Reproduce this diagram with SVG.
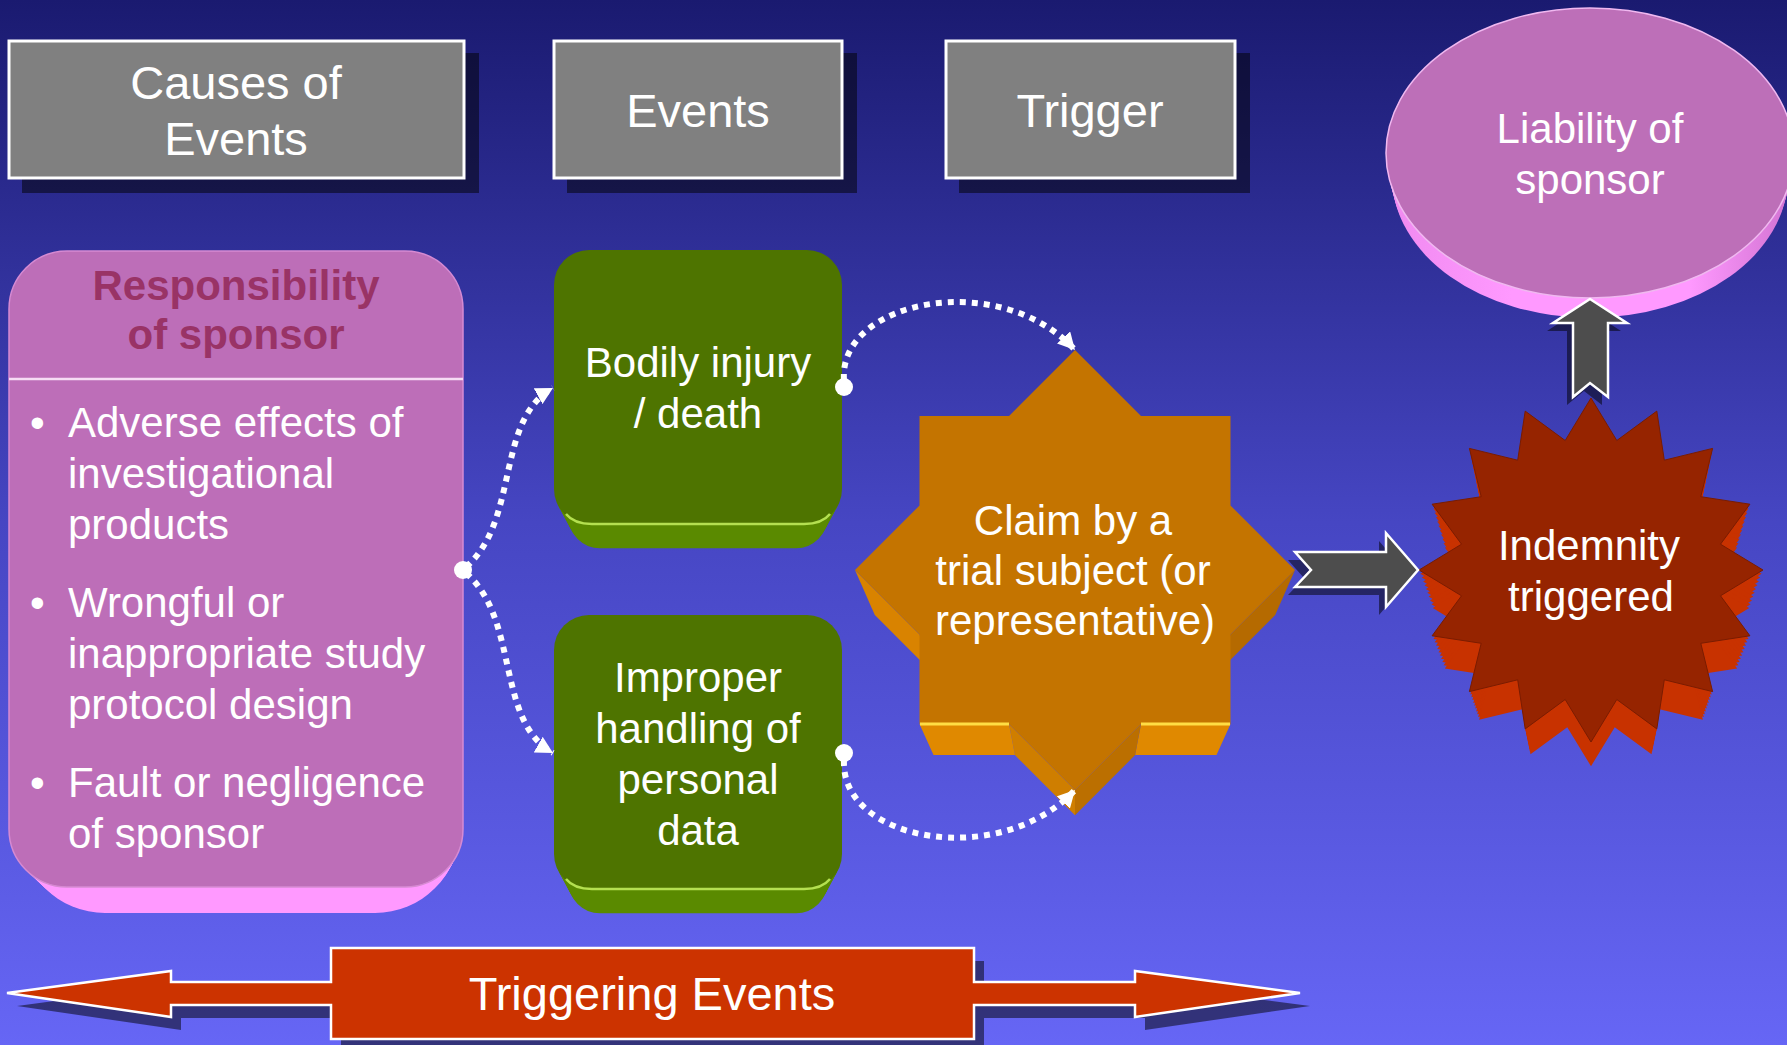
<svg xmlns="http://www.w3.org/2000/svg" width="1787" height="1045" viewBox="0 0 1787 1045">
  <defs>
    <linearGradient id="bg" x1="0" y1="0" x2="0" y2="1">
      <stop offset="0" stop-color="#1a1a70"/>
      <stop offset="0.5" stop-color="#4646c3"/>
      <stop offset="1" stop-color="#6666f5"/>
    </linearGradient>
    <linearGradient id="discSide" x1="0" y1="0" x2="1" y2="0">
      <stop offset="0" stop-color="#f08af0"/>
      <stop offset="0.3" stop-color="#ff99ff"/>
      <stop offset="0.75" stop-color="#ff99ff"/>
      <stop offset="1" stop-color="#d374d3"/>
    </linearGradient>
    <!-- base shapes, centred on the origin -->
    <rect id="gbox" x="-144" y="-137" width="288" height="274" rx="35"/>
    <ellipse id="disc" rx="204" ry="145"/>
    <polygon id="burst" points="0,-172 25.8,-129.5 65.8,-158.9 73.3,-109.8 121.6,-121.6 109.8,-73.3 158.9,-65.8 129.5,-25.8 172,0 129.5,25.8 158.9,65.8 109.8,73.3 121.6,121.6 73.3,109.8 65.8,158.9 25.8,129.5 0,172 -25.8,129.5 -65.8,158.9 -73.3,109.8 -121.6,121.6 -109.8,73.3 -158.9,65.8 -129.5,25.8 -172,0 -129.5,-25.8 -158.9,-65.8 -109.8,-73.3 -121.6,-121.6 -73.3,-109.8 -65.8,-158.9 -25.8,-129.5"/>
    <marker id="tip" markerUnits="userSpaceOnUse" viewBox="0 0 19 18" markerWidth="19" markerHeight="18" refX="17" refY="9" orient="auto">
      <path d="M0,0 L17,9 L0,18 z" fill="#ffffff"/>
    </marker>
    <style>
      text { font-family: "Liberation Sans", Arial, sans-serif; fill: #ffffff; }
      .hdr { font-size: 47px; text-anchor: middle; }
      .lbl { font-size: 42px; text-anchor: middle; }
      .bul { font-size: 42px; }
      .ttl { font-size: 42px; font-weight: bold; fill: #993366; text-anchor: middle; }
      .hbox { fill: #808080; stroke: #ffffff; stroke-width: 3; }
      .shadow { fill: #000000; fill-opacity: 0.5; }
      .block { fill: #4d4d4d; stroke: #ffffff; stroke-width: 2.5; stroke-linejoin: miter; }
      .dots { fill: none; stroke: #ffffff; stroke-width: 6; stroke-dasharray: 6 6; marker-end: url(#tip); }
      .knob { fill: #ffffff; }
    </style>
  </defs>

  <rect x="0" y="0" width="1787" height="1045" fill="url(#bg)"/>

  <!-- column headers -->
  <g id="hdr-causes">
    <rect class="shadow" x="22" y="53" width="457" height="140"/>
    <rect class="hbox" x="9" y="41" width="455" height="137"/>
    <text class="hdr" x="236" y="99">Causes of</text>
    <text class="hdr" x="236" y="155">Events</text>
  </g>
  <g id="hdr-events">
    <rect class="shadow" x="567" y="53" width="290" height="140"/>
    <rect class="hbox" x="554" y="41" width="288" height="137"/>
    <text class="hdr" x="698" y="127">Events</text>
  </g>
  <g id="hdr-trigger">
    <rect class="shadow" x="959" y="53" width="291" height="140"/>
    <rect class="hbox" x="946" y="41" width="289" height="137"/>
    <text class="hdr" x="1090" y="127">Trigger</text>
  </g>

  <!-- liability disc -->
  <g id="liability">
    <g fill="url(#discSide)">
      <use href="#disc" transform="translate(1590,156) scale(0.99625)"/>
      <use href="#disc" transform="translate(1590,159) scale(0.9925)"/>
      <use href="#disc" transform="translate(1590,162) scale(0.98875)"/>
      <use href="#disc" transform="translate(1590,165) scale(0.985)"/>
      <use href="#disc" transform="translate(1590,168) scale(0.98125)"/>
      <use href="#disc" transform="translate(1590,171) scale(0.9775)"/>
      <use href="#disc" transform="translate(1590,174) scale(0.97375)"/>
      <use href="#disc" transform="translate(1590,177) scale(0.97)"/>
    </g>
    <use href="#disc" transform="translate(1590,153)" fill="#bd6fb8" stroke="#f0b8f0" stroke-width="1.5"/>
    <text class="lbl" x="1590" y="143">Liability of</text>
    <text class="lbl" x="1590" y="194">sponsor</text>
  </g>

  <!-- responsibility panel -->
  <g id="responsibility">
    <g fill="#ff99ff">
      <rect x="10.375" y="255.875" width="452.25" height="634.375" rx="61.375"/>
      <rect x="11.75" y="260.75" width="450.5" height="632.75" rx="64.75"/>
      <rect x="13.125" y="265.625" width="448.75" height="631.125" rx="68.125"/>
      <rect x="14.5" y="270.5" width="447" height="629.5" rx="71.5"/>
      <rect x="15.875" y="275.375" width="445.25" height="627.875" rx="74.875"/>
      <rect x="17.25" y="280.25" width="443.5" height="626.25" rx="78.25"/>
      <rect x="18.625" y="285.125" width="441.75" height="624.625" rx="81.625"/>
      <rect x="20" y="290" width="440" height="623" rx="85"/>
    </g>
    <rect x="9" y="251" width="454" height="636" rx="58" fill="#bd6eb8" stroke="#d68ad2" stroke-width="1.5"/>
    <line x1="9" y1="379" x2="463" y2="379" stroke="#f6dcf4" stroke-width="2.5"/>
    <text class="ttl" x="236" y="300">Responsibility</text>
    <text class="ttl" x="236" y="349">of sponsor</text>
    <text class="bul" x="30" y="437">•</text>
    <text class="bul" x="68" y="437">Adverse effects of</text>
    <text class="bul" x="68" y="488">investigational</text>
    <text class="bul" x="68" y="539">products</text>
    <text class="bul" x="30" y="617">•</text>
    <text class="bul" x="68" y="617">Wrongful or</text>
    <text class="bul" x="68" y="668">inappropriate study</text>
    <text class="bul" x="68" y="719">protocol design</text>
    <text class="bul" x="30" y="797">•</text>
    <text class="bul" x="68" y="797">Fault or negligence</text>
    <text class="bul" x="68" y="848">of sponsor</text>
  </g>

  <!-- event boxes -->
  <g id="bodily-injury">
    <g fill="#5a8a00">
      <use href="#gbox" transform="translate(698,390.8) scale(0.99)"/>
      <use href="#gbox" transform="translate(698,394.6) scale(0.98)"/>
      <use href="#gbox" transform="translate(698,398.4) scale(0.97)"/>
      <use href="#gbox" transform="translate(698,402.2) scale(0.96)"/>
      <use href="#gbox" transform="translate(698,406) scale(0.95)"/>
      <use href="#gbox" transform="translate(698,409.8) scale(0.94)"/>
      <use href="#gbox" transform="translate(698,413.6) scale(0.93)"/>
      <use href="#gbox" transform="translate(698,417.4) scale(0.92)"/>
      <use href="#gbox" transform="translate(698,421.2) scale(0.91)"/>
      <use href="#gbox" transform="translate(698,425) scale(0.90)"/>
    </g>
    <use href="#gbox" transform="translate(698,387)" fill="#4e7400"/>
    <path d="M566,514 Q574,524 592,524 L804,524 Q822,524 830,514" fill="none" stroke="#b4e050" stroke-width="2.5"/>
    <text class="lbl" x="698" y="377">Bodily injury</text>
    <text class="lbl" x="698" y="428">/ death</text>
  </g>

  <g id="personal-data">
    <g fill="#5a8a00">
      <use href="#gbox" transform="translate(698,755.8) scale(0.99)"/>
      <use href="#gbox" transform="translate(698,759.6) scale(0.98)"/>
      <use href="#gbox" transform="translate(698,763.4) scale(0.97)"/>
      <use href="#gbox" transform="translate(698,767.2) scale(0.96)"/>
      <use href="#gbox" transform="translate(698,771) scale(0.95)"/>
      <use href="#gbox" transform="translate(698,774.8) scale(0.94)"/>
      <use href="#gbox" transform="translate(698,778.6) scale(0.93)"/>
      <use href="#gbox" transform="translate(698,782.4) scale(0.92)"/>
      <use href="#gbox" transform="translate(698,786.2) scale(0.91)"/>
      <use href="#gbox" transform="translate(698,790) scale(0.90)"/>
    </g>
    <use href="#gbox" transform="translate(698,752)" fill="#4e7400"/>
    <path d="M566,879 Q574,889 592,889 L804,889 Q822,889 830,879" fill="none" stroke="#b4e050" stroke-width="2.5"/>
    <text class="lbl" x="698" y="692">Improper</text>
    <text class="lbl" x="698" y="743">handling of</text>
    <text class="lbl" x="698" y="794">personal</text>
    <text class="lbl" x="698" y="845">data</text>
  </g>

  <!-- claim star -->
  <g id="claim">
    <polygon points="1295,570 1230.5,634.5 1216.5,673.7 1275.2,615" fill="#b56a00"/>
    <polygon points="1230.5,724 1141,724 1135.1,755.1 1216.5,755.1" fill="#e08900"/>
    <polygon points="1141,724 1075,790 1075,815.2 1135.1,755.1" fill="#bb6f00"/>
    <polygon points="1075,790 1009,724 1014.9,755.1 1075,815.2" fill="#cf7e00"/>
    <polygon points="1009,724 919.5,724 933.5,755.1 1014.9,755.1" fill="#e08900"/>
    <polygon points="919.5,634.5 855,570 874.8,615 933.5,673.7" fill="#d98300"/>
    <polygon points="1075,350 1141,416 1230.5,416 1230.5,505.5 1295,570 1230.5,634.5 1230.5,724 1141,724 1075,790 1009,724 919.5,724 919.5,634.5 855,570 919.5,505.5 919.5,416 1009,416" fill="#c47400"/>
    <line x1="920" y1="724" x2="1009" y2="724" stroke="#ffdd44" stroke-width="3"/>
    <line x1="1141" y1="724" x2="1230" y2="724" stroke="#ffdd44" stroke-width="3"/>
    <text class="lbl" x="1073" y="535">Claim by a</text>
    <text class="lbl" x="1073" y="585">trial subject (or</text>
    <text class="lbl" x="1075" y="635">representative)</text>
  </g>

  <!-- indemnity burst -->
  <g id="indemnity">
    <g fill="#c83200">
      <use href="#burst" transform="translate(1591,573.8) scale(0.992)"/>
      <use href="#burst" transform="translate(1591,577.6) scale(0.984)"/>
      <use href="#burst" transform="translate(1591,581.4) scale(0.976)"/>
      <use href="#burst" transform="translate(1591,585.2) scale(0.968)"/>
      <use href="#burst" transform="translate(1591,589) scale(0.96)"/>
      <use href="#burst" transform="translate(1591,592.8) scale(0.952)"/>
      <use href="#burst" transform="translate(1591,596.6) scale(0.944)"/>
      <use href="#burst" transform="translate(1591,600.4) scale(0.936)"/>
      <use href="#burst" transform="translate(1591,604.2) scale(0.928)"/>
      <use href="#burst" transform="translate(1591,608) scale(0.92)"/>
    </g>
    <use href="#burst" transform="translate(1591,570)" fill="#962400" stroke="#7a1c00" stroke-width="1"/>
    <text class="lbl" x="1589" y="560">Indemnity</text>
    <text class="lbl" x="1591" y="611">triggered</text>
  </g>

  <!-- triggering events band -->
  <g id="triggering-events">
    <polygon class="shadow" transform="translate(10,13)" points="7,993 171,971 171,982 331,982 331,948 974,948 974,982 1135,982 1135,971 1300,993 1135,1017 1135,1005 974,1005 974,1039 331,1039 331,1005 171,1005 171,1017"/>
    <polygon points="7,993 171,971 171,982 331,982 331,948 974,948 974,982 1135,982 1135,971 1300,993 1135,1017 1135,1005 974,1005 974,1039 331,1039 331,1005 171,1005 171,1017" fill="#cc3300" stroke="#ffffff" stroke-width="2.5"/>
    <text class="hdr" x="652" y="1010">Triggering Events</text>
  </g>

  <!-- connectors -->
  <g id="connectors">
    <path class="dots" d="M466,567 C520,520 495,420 553,388"/>
    <path class="dots" d="M466,573 C520,620 495,720 553,753"/>
    <path class="dots" d="M844,380 C838,300 1000,268 1075,350"/>
    <path class="dots" d="M844,760 C840,842 1000,870 1075,790"/>
    <circle class="knob" cx="463" cy="570" r="9"/>
    <circle class="knob" cx="844" cy="387" r="9"/>
    <circle class="knob" cx="844" cy="753" r="9"/>

    <polygon class="shadow" transform="translate(-7,8)" points="1295,552 1386,552 1386,533 1418,570 1386,607 1386,587 1295,587 1311,570"/>
    <polygon class="block" points="1295,552 1386,552 1386,533 1418,570 1386,607 1386,587 1295,587 1311,570"/>

    <polygon class="shadow" transform="translate(-6,8)" points="1590,299 1627,323 1608,323 1608,397 1590,383 1573,397 1573,323 1553,323"/>
    <polygon class="block" points="1590,299 1627,323 1608,323 1608,397 1590,383 1573,397 1573,323 1553,323"/>
  </g>
</svg>
